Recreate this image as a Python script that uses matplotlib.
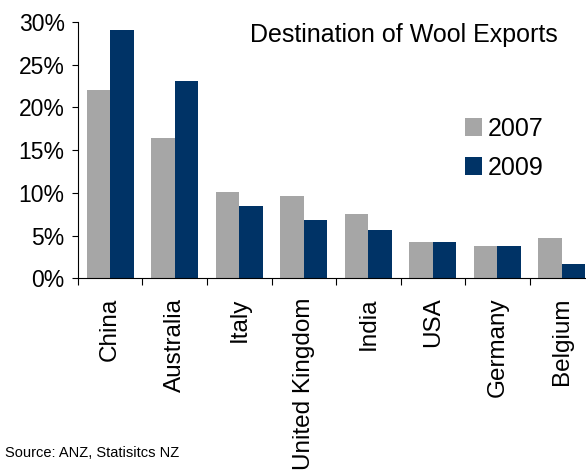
import matplotlib
matplotlib.use("Agg")
import matplotlib.pyplot as plt
import numpy as np

countries = ["China", "Australia", "Italy", "United Kingdom", "India",
             "USA", "Germany", "Belgium"]
share_2007 = [22.1, 16.4, 10.1, 9.6, 7.5, 4.3, 3.8, 4.7]
share_2009 = [29.1, 23.1, 8.5, 6.8, 5.7, 4.3, 3.8, 1.7]
yticks = [0, 5, 10, 15, 20, 25, 30]

def main():
    plt.rcParams['font.family'] = ['Liberation Sans', 'DejaVu Sans']
    fig = plt.figure(figsize=(5.86, 4.70), dpi=100)
    ax = fig.add_axes([0.133, 0.408, 0.881, 0.545])

    x = np.arange(len(countries))
    w = 0.365
    ax.bar(x - w/2, share_2007, w, color="#a6a6a6", label="2007")
    ax.bar(x + w/2, share_2009, w, color="#003366", label="2009")

    ax.set_xlim(-0.5, len(countries) - 0.5)
    ax.set_ylim(0, 30)
    ax.set_yticks(yticks)
    ax.set_yticklabels([f"{v}%" for v in yticks])
    ax.set_xticks(x)
    ax.set_xticklabels(countries, rotation=90, va="top")
    ax.set_xticks(np.arange(len(countries) + 1) - 0.5, minor=True)
    ax.tick_params(axis="x", which="major", length=0, pad=14, labelsize=17.5)
    ax.tick_params(axis="x", which="minor", length=5, direction="out", width=0.8)
    ax.tick_params(axis="y", length=4.5, width=0.8, pad=5, labelsize=16.5)

    for s in ["top", "right"]:
        ax.spines[s].set_visible(False)
    for s in ["left", "bottom"]:
        ax.spines[s].set_linewidth(0.8)

    fig.text(0.69, 0.925, "Destination of Wool Exports", fontsize=18,
             ha="center", va="center")
    ax.legend(loc="upper left", bbox_to_anchor=(0.73, 0.67), frameon=False,
              fontsize=18, handlelength=0.7, handleheight=0.7,
              handletextpad=0.2, labelspacing=0.6, borderaxespad=0)
    fig.text(0.008, 0.036, "Source: ANZ, Statisitcs NZ", fontsize=10.5,
             ha="left", va="center")

    fig.savefig("out.png", dpi=100)

if __name__ == "__main__":
    main()
